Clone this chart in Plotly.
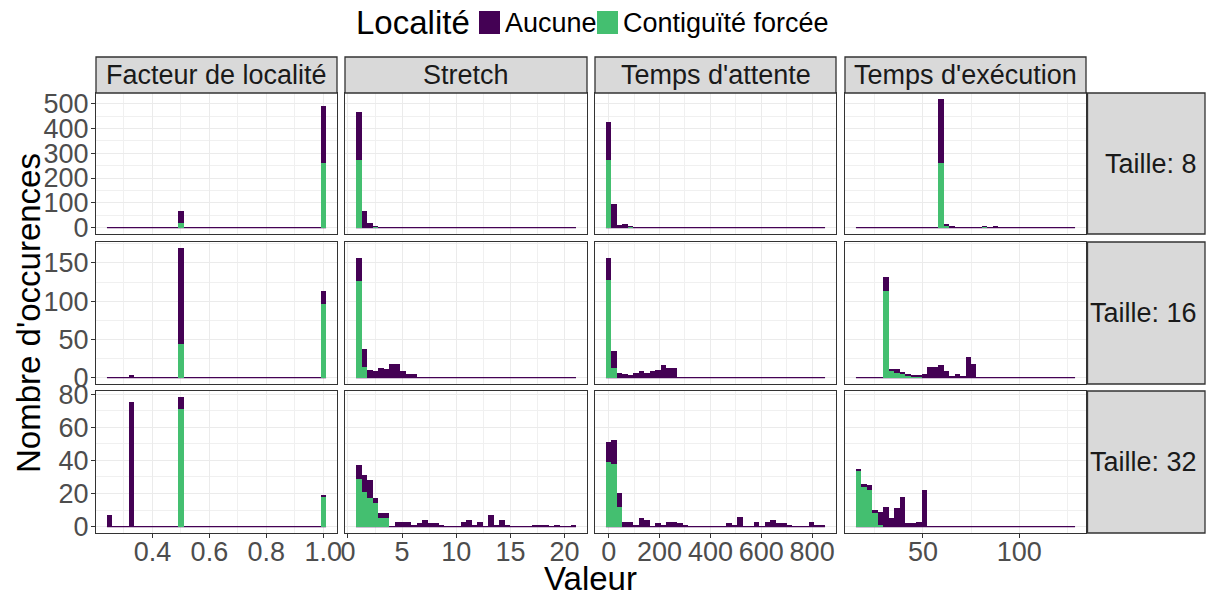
import plotly.graph_objects as go
from plotly.subplots import make_subplots

# ---------------- data ----------------
measures = ["Facteur de localité", "Stretch", "Temps d'attente", "Temps d'exécution"]
sizes = ["Taille: 8", "Taille: 16", "Taille: 32"]
groups = ["Aucune", "Contiguïté forcée"]
N_BINS = 40
x_min = [0.25, 1.0, 0.0, 16.6]
x_max = [1.0, 20.8, 840.0, 127.6]

# counts per bin index (sparse), one dict per measure
aucune_t8 = [{13: 48, 39: 232},
             {0: 192, 1: 65, 2: 17, 3: 2},
             {0: 152, 1: 97, 2: 9, 3: 13, 4: 1},
             {15: 256, 16: 4, 17: 4, 23: 2, 25: 5}]
contig_t8 = [{13: 17, 39: 259},
             {0: 273, 3: 3},
             {0: 273, 4: 3},
             {15: 261, 16: 9, 17: 1, 23: 3}]

aucune_t16 = [{4: 3, 13: 125, 39: 17},
              {0: 29, 1: 24, 2: 10, 3: 9, 4: 13, 5: 11, 6: 18, 7: 18, 8: 9, 9: 4, 10: 4},
              {0: 28, 1: 22, 2: 6, 3: 5, 4: 3, 5: 6, 6: 9, 7: 6, 8: 9, 9: 10, 10: 17, 11: 13, 12: 13},
              {5: 18, 6: 2, 7: 5, 8: 1, 9: 2, 10: 1, 11: 2, 12: 5, 13: 14, 14: 14, 15: 17,
               16: 9, 17: 2, 18: 5, 19: 2, 20: 27, 21: 18}]
contig_t16 = [{13: 44, 39: 96},
              {0: 127, 1: 14},
              {0: 128, 1: 13},
              {5: 113, 6: 9, 7: 6, 8: 5, 9: 3, 10: 2, 11: 1}]

aucune_t32 = [{0: 7, 4: 75, 13: 7, 39: 1},
              {0: 8, 1: 10, 2: 11, 3: 3, 4: 3, 5: 3, 7: 3, 8: 3, 9: 3, 10: 1, 11: 2, 12: 4,
               13: 2, 14: 2, 15: 1, 19: 3, 20: 4, 21: 1, 22: 3, 24: 7, 25: 1, 26: 4, 27: 1,
               32: 1, 33: 1, 34: 1, 36: 1, 39: 1},
              {0: 12, 1: 14, 2: 8, 3: 3, 4: 3, 5: 1, 6: 5, 7: 4, 9: 2, 10: 1, 11: 3, 12: 3,
               13: 2, 14: 1, 22: 2, 23: 1, 24: 6, 27: 3, 29: 3, 30: 4, 31: 2, 32: 2, 33: 1,
               37: 3, 38: 1, 39: 1},
              {0: 1, 1: 2, 2: 3, 3: 2, 4: 8, 5: 12, 6: 5, 7: 11, 8: 18, 9: 2, 10: 2, 11: 3, 12: 22}]
contig_t32 = [{13: 71, 39: 18},
              {0: 29, 1: 21, 2: 17, 3: 14, 4: 5, 5: 5},
              {0: 39, 1: 38, 2: 12},
              {0: 34, 1: 24, 2: 22, 3: 8, 4: 1}]

aucune_rows = [aucune_t8, aucune_t16, aucune_t32]
contig_rows = [contig_t8, contig_t16, contig_t32]

x_tickvals = [[0.4, 0.6, 0.8, 1.0], [0, 5, 10, 15, 20], [0, 200, 400, 600, 800], [50, 100]]
x_ticktext = [["0.4", "0.6", "0.8", "1.0"], ["0", "5", "10", "15", "20"],
              ["0", "200", "400", "600", "800"], ["50", "100"]]
x_minor = [[0.3, 0.5, 0.7, 0.9], [2.5, 7.5, 12.5, 17.5], [100, 300, 500, 700], [25, 75, 125]]
y_tickvals = [[0, 100, 200, 300, 400, 500], [0, 50, 100, 150], [0, 20, 40, 60, 80]]
y_minor = [[50, 150, 250, 350, 450], [25, 75, 125, 175], [10, 30, 50, 70]]

COL_AUC = "#440154"
COL_CON = "#44BF70"
FONT = "Liberation Sans, Arial, sans-serif"
SMALL = 27
BIG = 33

# ---------------- geometry (pixels) ----------------
W, H = 1211, 596
PL, PR, PT, PB = 96, 1086, 93, 533
col_px = [(96, 337), (345, 587), (595, 836), (845, 1086)]
row_px = [(93, 234), (242, 384), (391, 533)]
pw, ph = PR - PL, PB - PT


def px_x(x):
    return (x - PL) / pw


def px_y(y):
    return (PB - y) / ph


fig = make_subplots(rows=3, cols=4)


def counts_list(d):
    return [d.get(i, 0) for i in range(N_BINS)]


bin_w = [(x_max[c] - x_min[c]) / (N_BINS - 1) for c in range(4)]
centers = [[x_min[c] + i * bin_w[c] for i in range(N_BINS)] for c in range(4)]

row_max = []
for r in range(3):
    m = 0
    for c in range(4):
        a = counts_list(aucune_rows[r][c])
        g = counts_list(contig_rows[r][c])
        m = max(m, max(x + y for x, y in zip(a, g)))
    row_max.append(m)

try:
    go.layout.Shape(layer="between")
    base_layer = "between"
except Exception:
    base_layer = "below"

try:
    go.layout.XAxis(ticklabelstandoff=-10)
    x_standoff = dict(ticklabelstandoff=-10)
    y_standoff = dict(ticklabelstandoff=-3)
except Exception:
    x_standoff = {}
    y_standoff = {}

shapes = []
for r in range(3):
    for c in range(4):
        g = counts_list(contig_rows[r][c])
        a = counts_list(aucune_rows[r][c])
        fig.add_trace(go.Bar(x=centers[c], y=g, width=bin_w[c], marker=dict(color=COL_CON, line=dict(width=0)),
                             name=groups[1], showlegend=False), row=r + 1, col=c + 1)
        fig.add_trace(go.Bar(x=centers[c], y=a, width=bin_w[c], marker=dict(color=COL_AUC, line=dict(width=0)),
                             name=groups[0], showlegend=False), row=r + 1, col=c + 1)
        n = r * 4 + c + 1
        xr = "x" if n == 1 else f"x{n}"
        yr = "y" if n == 1 else f"y{n}"
        shapes.append(dict(type="line", xref=xr, yref=yr, layer=base_layer,
                           x0=x_min[c] - bin_w[c] / 2, x1=x_max[c] + bin_w[c] / 2, y0=0, y1=0,
                           line=dict(color=COL_AUC, width=1.3)))

axis_common = dict(showline=True, mirror=True, linecolor="#333333", linewidth=1.3,
                   showgrid=True, gridcolor="#EBEBEB", gridwidth=1.4, zeroline=False,
                   tickfont=dict(family=FONT, size=SMALL, color="#4D4D4D"),
                   tickcolor="#333333", ticklen=4, tickwidth=1.1)

for r in range(3):
    for c in range(4):
        n = r * 4 + c + 1
        xname = "xaxis" if n == 1 else f"xaxis{n}"
        yname = "yaxis" if n == 1 else f"yaxis{n}"
        lo = x_min[c] - bin_w[c] / 2
        hi = x_max[c] + bin_w[c] / 2
        pad = 0.05 * (hi - lo)
        ymax = row_max[r]
        fig.layout[xname].update(
            domain=[px_x(col_px[c][0]), px_x(col_px[c][1])],
            range=[lo - pad, hi + pad], tickmode="array",
            tickvals=x_tickvals[c], ticktext=x_ticktext[c],
            showticklabels=(r == 2), ticks="outside" if r == 2 else "",
            minor=dict(tickmode="array", tickvals=x_minor[c], showgrid=True,
                       gridcolor="#F0F0F0", gridwidth=0.8, ticks=""),
            **x_standoff, **axis_common)
        fig.layout[yname].update(
            domain=[px_y(row_px[r][1]), px_y(row_px[r][0])],
            range=[-0.05 * ymax, 1.05 * ymax], tickmode="array",
            tickvals=y_tickvals[r], ticktext=[str(v) for v in y_tickvals[r]],
            showticklabels=(c == 0), ticks="outside" if c == 0 else "",
            minor=dict(tickmode="array", tickvals=y_minor[r], showgrid=True,
                       gridcolor="#F0F0F0", gridwidth=0.8, ticks=""),
            **y_standoff, **axis_common)

annotations = []
# top strips
for c in range(4):
    x0, x1 = col_px[c]
    shapes.append(dict(type="rect", xref="paper", yref="paper", x0=px_x(x0), x1=px_x(x1),
                       y0=px_y(93), y1=px_y(57), fillcolor="#D9D9D9",
                       line=dict(color="#333333", width=1.3), layer="above"))
    annotations.append(dict(x=px_x((x0 + x1) / 2), y=px_y(75), xref="paper", yref="paper",
                            text=measures[c], showarrow=False, xanchor="center", yanchor="middle",
                            font=dict(family=FONT, size=SMALL, color="#1A1A1A")))
# right strips
for r in range(3):
    y0, y1 = row_px[r]
    shapes.append(dict(type="rect", xref="paper", yref="paper", x0=px_x(1087.5), x1=px_x(1205),
                       y0=px_y(y1), y1=px_y(y0), fillcolor="#D9D9D9",
                       line=dict(color="#333333", width=1.3), layer="above"))
    annotations.append(dict(x=px_x(1199), y=px_y((y0 + y1) / 2), xref="paper", yref="paper",
                            text=sizes[r], showarrow=False, xanchor="right", yanchor="middle",
                            font=dict(family=FONT, size=SMALL, color="#1A1A1A")))

# axis titles
annotations.append(dict(x=px_x(590), y=px_y(578), xref="paper", yref="paper", text="Valeur",
                        showarrow=False, xanchor="center", yanchor="middle",
                        font=dict(family=FONT, size=BIG, color="black")))
annotations.append(dict(x=px_x(28), y=px_y(313), xref="paper", yref="paper",
                        text="Nombre d'occurences", textangle=-90, showarrow=False,
                        xanchor="center", yanchor="middle",
                        font=dict(family=FONT, size=BIG, color="black")))

# legend (manual)
annotations.append(dict(x=px_x(354), y=px_y(23), xref="paper", yref="paper", text="Localité",
                        showarrow=False, xanchor="left", yanchor="middle",
                        font=dict(family=FONT, size=BIG, color="black")))
legend_items = [(groups[0], COL_AUC, 479), (groups[1], COL_CON, 597)]
for label, col, kx in legend_items:
    shapes.append(dict(type="rect", xref="paper", yref="paper", x0=px_x(kx), x1=px_x(kx + 21),
                       y0=px_y(34), y1=px_y(11), fillcolor=col, line=dict(width=0), layer="above"))
    annotations.append(dict(x=px_x(kx + 24), y=px_y(23), xref="paper", yref="paper", text=label,
                            showarrow=False, xanchor="left", yanchor="middle",
                            font=dict(family=FONT, size=SMALL, color="black")))

fig.update_layout(
    width=W, height=H, barmode="stack", bargap=0, showlegend=False,
    paper_bgcolor="white", plot_bgcolor="white",
    margin=dict(l=PL, r=W - PR, t=PT, b=H - PB, pad=0),
    shapes=shapes, annotations=annotations,
    font=dict(family=FONT),
)

fig.write_html("out.html", config={"displayModeBar": False},
               post_script="document.body.style.margin='0';document.body.style.overflow='hidden';")
